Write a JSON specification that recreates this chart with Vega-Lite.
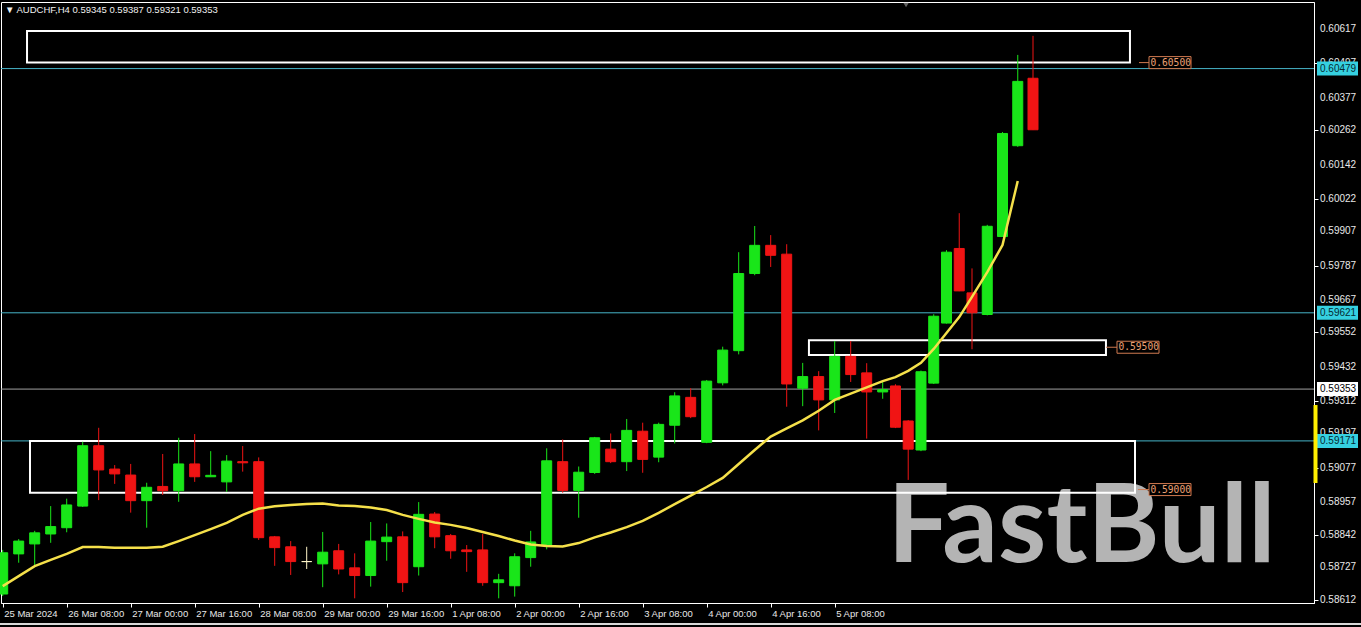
{
  "$schema": "https://vega.github.io/schema/vega-lite/v6.json",
  "width": 1313,
  "height": 601,
  "autosize": {"type": "none"},
  "padding": {"left": 1, "top": 2, "right": 47, "bottom": 24},
  "background": "#000000",
  "config": {"view": {"stroke": "#ffffff", "strokeWidth": 1}, "font": "Liberation Sans"},
  "datasets": {
    "candles": [
      {"i":0,"t":"2024-03-25 16:00","o":0.58633,"h":0.58788,"l":0.58626,"c":0.58778,"ma":0.58661,"d":"up"},
      {"i":1,"t":"2024-03-25 20:00","o":0.58774,"h":0.58826,"l":0.58743,"c":0.58819,"ma":0.58696,"d":"up"},
      {"i":2,"t":"2024-03-26 00:00","o":0.58809,"h":0.58855,"l":0.58729,"c":0.58848,"ma":0.58731,"d":"up"},
      {"i":3,"t":"2024-03-26 04:00","o":0.58844,"h":0.58942,"l":0.58813,"c":0.58870,"ma":0.58753,"d":"up"},
      {"i":4,"t":"2024-03-26 08:00","o":0.58866,"h":0.58968,"l":0.58850,"c":0.58946,"ma":0.58774,"d":"up"},
      {"i":5,"t":"2024-03-26 12:00","o":0.58942,"h":0.59168,"l":0.58939,"c":0.59154,"ma":0.58798,"d":"up"},
      {"i":6,"t":"2024-03-26 16:00","o":0.59154,"h":0.59217,"l":0.58963,"c":0.59069,"ma":0.58798,"d":"down"},
      {"i":7,"t":"2024-03-26 20:00","o":0.59072,"h":0.59086,"l":0.59020,"c":0.59055,"ma":0.58796,"d":"down"},
      {"i":8,"t":"2024-03-27 00:00","o":0.59051,"h":0.59090,"l":0.58919,"c":0.58961,"ma":0.58796,"d":"down"},
      {"i":9,"t":"2024-03-27 04:00","o":0.58961,"h":0.59024,"l":0.58866,"c":0.59008,"ma":0.58796,"d":"up"},
      {"i":10,"t":"2024-03-27 08:00","o":0.59011,"h":0.59125,"l":0.58981,"c":0.58996,"ma":0.58799,"d":"down"},
      {"i":11,"t":"2024-03-27 12:00","o":0.58996,"h":0.59182,"l":0.58957,"c":0.59090,"ma":0.58819,"d":"up"},
      {"i":12,"t":"2024-03-27 16:00","o":0.59090,"h":0.59195,"l":0.59027,"c":0.59045,"ma":0.58840,"d":"down"},
      {"i":13,"t":"2024-03-27 20:00","o":0.59045,"h":0.59135,"l":0.59044,"c":0.59050,"ma":0.58861,"d":"up"},
      {"i":14,"t":"2024-03-28 00:00","o":0.59027,"h":0.59121,"l":0.58992,"c":0.59100,"ma":0.58883,"d":"up"},
      {"i":15,"t":"2024-03-28 04:00","o":0.59098,"h":0.59153,"l":0.59063,"c":0.59094,"ma":0.58911,"d":"down"},
      {"i":16,"t":"2024-03-28 08:00","o":0.59098,"h":0.59113,"l":0.58823,"c":0.58831,"ma":0.58933,"d":"down"},
      {"i":17,"t":"2024-03-28 12:00","o":0.58834,"h":0.58837,"l":0.58732,"c":0.58796,"ma":0.58941,"d":"down"},
      {"i":18,"t":"2024-03-28 16:00","o":0.58799,"h":0.58819,"l":0.58700,"c":0.58747,"ma":0.58946,"d":"down"},
      {"i":19,"t":"2024-03-28 20:00","o":0.58747,"h":0.58799,"l":0.58721,"c":0.58747,"ma":0.58949,"d":"doji"},
      {"i":20,"t":"2024-03-29 00:00","o":0.58739,"h":0.58851,"l":0.58657,"c":0.58780,"ma":0.58951,"d":"up"},
      {"i":21,"t":"2024-03-29 04:00","o":0.58785,"h":0.58809,"l":0.58702,"c":0.58721,"ma":0.58944,"d":"down"},
      {"i":22,"t":"2024-03-29 08:00","o":0.58725,"h":0.58776,"l":0.58618,"c":0.58698,"ma":0.58942,"d":"down"},
      {"i":23,"t":"2024-03-29 12:00","o":0.58698,"h":0.58886,"l":0.58659,"c":0.58819,"ma":0.58937,"d":"up"},
      {"i":24,"t":"2024-03-29 16:00","o":0.58817,"h":0.58881,"l":0.58750,"c":0.58833,"ma":0.58928,"d":"up"},
      {"i":25,"t":"2024-03-29 20:00","o":0.58834,"h":0.58853,"l":0.58640,"c":0.58673,"ma":0.58911,"d":"down"},
      {"i":26,"t":"2024-04-01 00:00","o":0.58729,"h":0.58956,"l":0.58698,"c":0.58913,"ma":0.58897,"d":"up"},
      {"i":27,"t":"2024-04-01 04:00","o":0.58914,"h":0.58921,"l":0.58794,"c":0.58834,"ma":0.58884,"d":"down"},
      {"i":28,"t":"2024-04-01 08:00","o":0.58838,"h":0.58844,"l":0.58757,"c":0.58785,"ma":0.58876,"d":"down"},
      {"i":29,"t":"2024-04-01 12:00","o":0.58788,"h":0.58805,"l":0.58711,"c":0.58782,"ma":0.58865,"d":"down"},
      {"i":30,"t":"2024-04-01 16:00","o":0.58788,"h":0.58844,"l":0.58662,"c":0.58673,"ma":0.58851,"d":"down"},
      {"i":31,"t":"2024-04-01 20:00","o":0.58673,"h":0.58704,"l":0.58618,"c":0.58683,"ma":0.58837,"d":"up"},
      {"i":32,"t":"2024-04-02 00:00","o":0.58662,"h":0.58776,"l":0.58624,"c":0.58764,"ma":0.58821,"d":"up"},
      {"i":33,"t":"2024-04-02 04:00","o":0.58761,"h":0.58855,"l":0.58729,"c":0.58816,"ma":0.58807,"d":"up"},
      {"i":34,"t":"2024-04-02 08:00","o":0.58805,"h":0.59145,"l":0.58790,"c":0.59101,"ma":0.58802,"d":"up"},
      {"i":35,"t":"2024-04-02 12:00","o":0.59098,"h":0.59176,"l":0.58989,"c":0.58997,"ma":0.58800,"d":"down"},
      {"i":36,"t":"2024-04-02 16:00","o":0.58997,"h":0.59081,"l":0.58901,"c":0.59061,"ma":0.58812,"d":"up"},
      {"i":37,"t":"2024-04-02 20:00","o":0.59060,"h":0.59185,"l":0.59055,"c":0.59182,"ma":0.58832,"d":"up"},
      {"i":38,"t":"2024-04-03 00:00","o":0.59142,"h":0.59197,"l":0.59093,"c":0.59098,"ma":0.58849,"d":"down"},
      {"i":39,"t":"2024-04-03 04:00","o":0.59098,"h":0.59248,"l":0.59065,"c":0.59208,"ma":0.58868,"d":"up"},
      {"i":40,"t":"2024-04-03 08:00","o":0.59205,"h":0.59235,"l":0.59059,"c":0.59106,"ma":0.58890,"d":"down"},
      {"i":41,"t":"2024-04-03 12:00","o":0.59114,"h":0.59235,"l":0.59096,"c":0.59229,"ma":0.58918,"d":"up"},
      {"i":42,"t":"2024-04-03 16:00","o":0.59226,"h":0.59342,"l":0.59162,"c":0.59329,"ma":0.58949,"d":"up"},
      {"i":43,"t":"2024-04-03 20:00","o":0.59324,"h":0.59356,"l":0.59251,"c":0.59256,"ma":0.58979,"d":"down"},
      {"i":44,"t":"2024-04-04 00:00","o":0.59166,"h":0.59385,"l":0.59163,"c":0.59381,"ma":0.59009,"d":"up"},
      {"i":45,"t":"2024-04-04 04:00","o":0.59375,"h":0.59502,"l":0.59366,"c":0.59490,"ma":0.59041,"d":"up"},
      {"i":46,"t":"2024-04-04 08:00","o":0.59488,"h":0.59834,"l":0.59475,"c":0.59759,"ma":0.59090,"d":"up"},
      {"i":47,"t":"2024-04-04 12:00","o":0.59759,"h":0.59926,"l":0.59753,"c":0.59858,"ma":0.59139,"d":"up"},
      {"i":48,"t":"2024-04-04 16:00","o":0.59858,"h":0.59894,"l":0.59782,"c":0.59823,"ma":0.59186,"d":"down"},
      {"i":49,"t":"2024-04-04 20:00","o":0.59827,"h":0.59862,"l":0.59291,"c":0.59371,"ma":0.59215,"d":"down"},
      {"i":50,"t":"2024-04-05 00:00","o":0.59356,"h":0.59445,"l":0.59293,"c":0.59397,"ma":0.59243,"d":"up"},
      {"i":51,"t":"2024-04-05 04:00","o":0.59397,"h":0.59416,"l":0.59208,"c":0.59315,"ma":0.59277,"d":"down"},
      {"i":52,"t":"2024-04-05 08:00","o":0.59315,"h":0.59522,"l":0.59269,"c":0.59468,"ma":0.59315,"d":"up"},
      {"i":53,"t":"2024-04-05 12:00","o":0.59468,"h":0.59522,"l":0.59378,"c":0.59404,"ma":0.59337,"d":"down"},
      {"i":54,"t":"2024-04-05 16:00","o":0.59410,"h":0.59444,"l":0.59179,"c":0.59343,"ma":0.59359,"d":"down"},
      {"i":55,"t":"2024-04-05 20:00","o":0.59343,"h":0.59385,"l":0.59319,"c":0.59351,"ma":0.59381,"d":"up"},
      {"i":56,"t":"2024-04-08 00:00","o":0.59364,"h":0.59370,"l":0.59216,"c":0.59219,"ma":0.59395,"d":"down"},
      {"i":57,"t":"2024-04-08 04:00","o":0.59241,"h":0.59244,"l":0.59034,"c":0.59142,"ma":0.59417,"d":"down"},
      {"i":58,"t":"2024-04-08 08:00","o":0.59139,"h":0.59418,"l":0.59135,"c":0.59414,"ma":0.59445,"d":"up"},
      {"i":59,"t":"2024-04-08 12:00","o":0.59374,"h":0.59616,"l":0.59371,"c":0.59609,"ma":0.59494,"d":"up"},
      {"i":60,"t":"2024-04-08 16:00","o":0.59585,"h":0.59841,"l":0.59583,"c":0.59834,"ma":0.59550,"d":"up"},
      {"i":61,"t":"2024-04-08 20:00","o":0.59847,"h":0.59971,"l":0.59697,"c":0.59698,"ma":0.59606,"d":"down"},
      {"i":62,"t":"2024-04-09 00:00","o":0.59691,"h":0.59777,"l":0.59493,"c":0.59621,"ma":0.59677,"d":"down"},
      {"i":63,"t":"2024-04-09 04:00","o":0.59615,"h":0.59930,"l":0.59612,"c":0.59925,"ma":0.59764,"d":"up"},
      {"i":64,"t":"2024-04-09 08:00","o":0.59889,"h":0.60256,"l":0.59888,"c":0.60251,"ma":0.59859,"d":"up"},
      {"i":65,"t":"2024-04-09 12:00","o":0.60208,"h":0.60527,"l":0.60204,"c":0.60434,"ma":0.60084,"d":"up"},
      {"i":66,"t":"2024-04-09 16:00","o":0.60445,"h":0.60594,"l":0.60263,"c":0.60264,"ma":null,"d":"down"}
    ],
    "levels": [{"p": 0.60479}, {"p": 0.59621}, {"p": 0.59171}],
    "bid": [{"p": 0.59353}],
    "yticks": [
      {"p": 0.60617}, {"p": 0.60497}, {"p": 0.60377}, {"p": 0.60262}, {"p": 0.60142}, {"p": 0.60022},
      {"p": 0.59907}, {"p": 0.59787}, {"p": 0.59667}, {"p": 0.59552}, {"p": 0.59432}, {"p": 0.59312},
      {"p": 0.59197}, {"p": 0.59077}, {"p": 0.58957}, {"p": 0.58842}, {"p": 0.58727}, {"p": 0.58612}
    ],
    "boxes": [
      {"x0": 1.52, "x1": 72.06, "p0": 0.60611, "p1": 0.605},
      {"x0": 50.39, "x1": 70.56, "p0": 0.59525, "p1": 0.59473},
      {"x0": 1.706, "x1": 72.375, "p0": 0.59171, "p1": 0.58989}
    ],
    "prices": [
      {"p": 0.605, "x0": 72.625, "x1": 73.25},
      {"p": 0.595, "x0": 70.56, "x1": 71.25},
      {"p": 0.59, "x0": 72.56, "x1": 73.25}
    ],
    "one": [{}]
  },
  "layer": [
    {
      "data": {"name": "candles"},
      "mark": {"type": "rule", "strokeWidth": 0, "opacity": 0},
      "encoding": {
        "x": {
          "field": "i", "type": "quantitative",
          "scale": {"type": "linear", "domain": [-0.10625, 55, 62, 66, 83.5625], "range": [0, 881.7, 971, 1032, 1313], "nice": false, "zero": false, "padding": 0},
          "axis": {
            "values": [0, 4, 8, 12, 16, 20, 24, 28, 32, 36, 40, 44, 48, 52],
            "labelExpr": "['25 Mar 2024','26 Mar 08:00','27 Mar 00:00','27 Mar 16:00','28 Mar 08:00','29 Mar 00:00','29 Mar 16:00','1 Apr 08:00','2 Apr 00:00','2 Apr 16:00','3 Apr 08:00','4 Apr 00:00','4 Apr 16:00','5 Apr 08:00'][round(datum.value/4)]",
            "title": null, "grid": false,
            "domainColor": "#ffffff", "tickColor": "#ffffff", "tickSize": 4,
            "labelColor": "#e8e8e8", "labelFont": "Liberation Sans", "labelFontSize": 9.5,
            "labelAlign": "left", "labelBaseline": "top", "labelPadding": 1, "labelOffset": 1,
            "labelFlush": false, "labelOverlap": false, "labelBound": false
          }
        },
        "y": {
          "field": "l", "type": "quantitative",
          "scale": {"domain": [0.586015, 0.607129], "nice": false, "zero": false},
          "axis": {
            "orient": "right",
            "values": [0.60617, 0.60497, 0.60377, 0.60262, 0.60142, 0.60022, 0.59907, 0.59787, 0.59667, 0.59552, 0.59432, 0.59312, 0.59197, 0.59077, 0.58957, 0.58842, 0.58727, 0.58612],
            "labels": false, "title": null, "grid": false,
            "domainColor": "#ffffff", "tickColor": "#ffffff", "tickSize": 4
          }
        }
      }
    },
    {
      "data": {"name": "one"},
      "mark": {"type": "text", "text": "FastBull", "font": "Lato", "fontWeight": "bold", "fontSize": 110, "color": "#b4b4b4", "align": "center", "baseline": "alphabetic"},
      "encoding": {
        "x": {"datum": 69.03, "type": "quantitative"},
        "y": {"datum": 0.58745, "type": "quantitative"}
      }
    },
    {
      "data": {"name": "levels"},
      "mark": {"type": "rule", "color": "#46b4c8", "strokeWidth": 1},
      "encoding": {"y": {"field": "p", "type": "quantitative"}}
    },
    {
      "data": {"name": "bid"},
      "mark": {"type": "rule", "color": "#a0a0a0", "strokeWidth": 1},
      "encoding": {"y": {"field": "p", "type": "quantitative"}}
    },
    {
      "data": {"name": "boxes"},
      "mark": {"type": "rect", "filled": false, "stroke": "#ffffff", "strokeWidth": 2},
      "encoding": {
        "x": {"field": "x0", "type": "quantitative"},
        "x2": {"field": "x1"},
        "y": {"field": "p0", "type": "quantitative"},
        "y2": {"field": "p1"}
      }
    },
    {
      "data": {"name": "candles"},
      "mark": {"type": "rule", "strokeWidth": 1},
      "encoding": {
        "x": {"field": "i", "type": "quantitative"},
        "y": {"field": "l", "type": "quantitative"},
        "y2": {"field": "h"},
        "color": {"field": "d", "type": "nominal", "scale": {"domain": ["up", "down", "doji"], "range": ["#19e619", "#f01414", "#fff5c8"]}, "legend": null}
      }
    },
    {
      "data": {"name": "candles"},
      "mark": {"type": "bar", "width": 10, "strokeWidth": 1, "orient": "vertical"},
      "encoding": {
        "x": {"field": "i", "type": "quantitative"},
        "y": {"field": "o", "type": "quantitative"},
        "y2": {"field": "c"},
        "color": {"field": "d", "type": "nominal", "legend": null},
        "stroke": {"field": "d", "type": "nominal", "scale": {"domain": ["up", "down", "doji"], "range": ["#19e619", "#f01414", "#fff5c8"]}, "legend": null}
      }
    },
    {
      "data": {"name": "candles"},
      "mark": {"type": "line", "color": "#f5e04a", "strokeWidth": 2.5},
      "encoding": {
        "x": {"field": "i", "type": "quantitative"},
        "y": {"field": "ma", "type": "quantitative"}
      }
    },
    {
      "data": {"name": "prices"},
      "mark": {"type": "rule", "color": "#d07a50", "strokeWidth": 1},
      "encoding": {
        "x": {"field": "x0", "type": "quantitative"},
        "x2": {"field": "x1"},
        "y": {"field": "p", "type": "quantitative"}
      }
    },
    {
      "data": {"name": "prices"},
      "mark": {"type": "rect", "fill": "#000000", "stroke": "#d07a50", "strokeWidth": 1, "x2Offset": 42, "yOffset": -6, "y2Offset": 6},
      "encoding": {
        "x": {"field": "x1", "type": "quantitative"},
        "x2": {"field": "x1"},
        "y": {"field": "p", "type": "quantitative"},
        "y2": {"field": "p"}
      }
    },
    {
      "data": {"name": "prices"},
      "mark": {"type": "text", "font": "DejaVu Sans Mono", "fontSize": 9.6, "color": "#eba074", "align": "left", "baseline": "middle", "dx": 1.5},
      "encoding": {
        "x": {"field": "x1", "type": "quantitative"},
        "y": {"field": "p", "type": "quantitative"},
        "text": {"field": "p", "type": "quantitative", "format": ".5f"}
      }
    },
    {
      "data": {"name": "yticks"},
      "mark": {"type": "text", "font": "Liberation Sans", "fontSize": 10, "color": "#e8e8e8", "align": "left", "baseline": "middle", "dx": 6},
      "encoding": {
        "x": {"datum": 83.5625, "type": "quantitative"},
        "y": {"field": "p", "type": "quantitative"},
        "text": {"field": "p", "type": "quantitative", "format": ".5f"}
      }
    },
    {
      "data": {"name": "levels"},
      "mark": {"type": "rect", "fill": "#35d0e0", "xOffset": 3, "x2Offset": 44, "yOffset": -7, "y2Offset": 7},
      "encoding": {
        "x": {"datum": 83.5625, "type": "quantitative"},
        "x2": {"datum": 83.5625},
        "y": {"field": "p", "type": "quantitative"},
        "y2": {"field": "p"}
      }
    },
    {
      "data": {"name": "bid"},
      "mark": {"type": "rect", "fill": "#ffffff", "xOffset": 3, "x2Offset": 44, "yOffset": -7, "y2Offset": 7},
      "encoding": {
        "x": {"datum": 83.5625, "type": "quantitative"},
        "x2": {"datum": 83.5625},
        "y": {"field": "p", "type": "quantitative"},
        "y2": {"field": "p"}
      }
    },
    {
      "data": {"name": "levels"},
      "mark": {"type": "text", "font": "Liberation Sans", "fontSize": 10, "color": "#062a30", "align": "left", "baseline": "middle", "dx": 6},
      "encoding": {
        "x": {"datum": 83.5625, "type": "quantitative"},
        "y": {"field": "p", "type": "quantitative"},
        "text": {"field": "p", "type": "quantitative", "format": ".5f"}
      }
    },
    {
      "data": {"name": "bid"},
      "mark": {"type": "text", "font": "Liberation Sans", "fontSize": 10, "color": "#000000", "align": "left", "baseline": "middle", "dx": 6},
      "encoding": {
        "x": {"datum": 83.5625, "type": "quantitative"},
        "y": {"field": "p", "type": "quantitative"},
        "text": {"field": "p", "type": "quantitative", "format": ".5f"}
      }
    },
    {
      "data": {"name": "one"},
      "mark": {"type": "rule", "color": "#ffee00", "strokeWidth": 4, "xOffset": 1.5},
      "encoding": {
        "x": {"datum": 83.5625, "type": "quantitative"},
        "y": {"datum": 0.59297, "type": "quantitative"},
        "y2": {"datum": 0.59023}
      }
    },
    {
      "data": {"name": "one"},
      "mark": {"type": "rule", "color": "#d8d8d8", "strokeWidth": 2, "xOffset": -1, "x2Offset": 47},
      "encoding": {
        "x": {"datum": -0.10625, "type": "quantitative"},
        "x2": {"datum": 83.5625},
        "y": {"datum": 0.585277, "type": "quantitative"}
      }
    },
    {
      "data": {"name": "one"},
      "mark": {"type": "text", "text": "▼ AUDCHF,H4  0.59345 0.59387 0.59321 0.59353", "font": "Liberation Sans", "fontSize": 9.5, "color": "#f0f0f0", "align": "left", "baseline": "middle", "dx": 4, "dy": 8},
      "encoding": {
        "x": {"datum": -0.10625, "type": "quantitative"},
        "y": {"datum": 0.607129, "type": "quantitative"}
      }
    },
    {
      "data": {"name": "one"},
      "mark": {"type": "point", "shape": "triangle-down", "size": 30, "filled": true, "color": "#8a8a8a", "yOffset": 3},
      "encoding": {
        "x": {"datum": 56.83, "type": "quantitative"},
        "y": {"datum": 0.607129, "type": "quantitative"}
      }
    }
  ]
}
